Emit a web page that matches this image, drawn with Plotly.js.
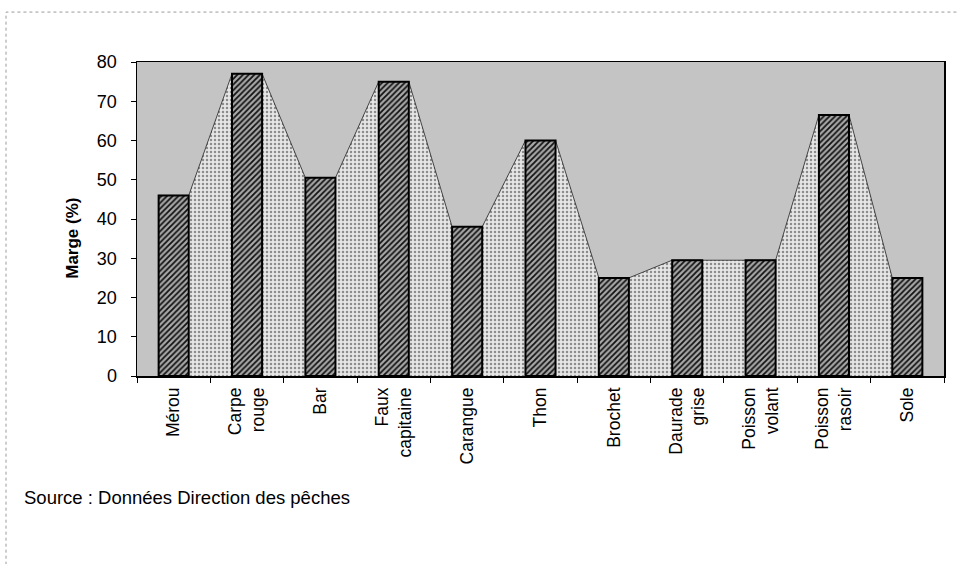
<!DOCTYPE html>
<html>
<head>
<meta charset="utf-8">
<script src="https://cdn.plot.ly/plotly-3.0.1.min.js"></script>
<style>html,body{margin:0;padding:0;background:#fff}#chart{width:957px;height:564px}</style>
</head>
<body>
<div id="chart"></div>
<script>
const categories = ["Mérou","Carpe rouge","Bar","Faux capitaine","Carangue","Thon","Brochet","Daurade grise","Poisson volant","Poisson rasoir","Sole"];
const tickLabels = ["Mérou","Carpe<br>rouge","Bar","Faux<br>capitaine","Carangue","Thon","Brochet","Daurade<br>grise","Poisson<br>volant","Poisson<br>rasoir","Sole"];
const marge = [46, 77, 50.5, 75, 38, 60, 25, 29.5, 29.5, 66.5, 25];
const yTicks = [0,10,20,30,40,50,60,70,80];

const barWidth = 0.41;
const idx = categories.map((c,i)=>i);

// area polygon through the bar top corners
const areaX = [], areaY = [];
idx.forEach(i => { areaX.push(i - barWidth/2, i + barWidth/2); areaY.push(marge[i], marge[i]); });

const font = "Liberation Sans, Arial, sans-serif";

const traces = [
  {
    type: "scatter", x: areaX, y: areaY, mode: "lines",
    fill: "tozeroy", fillcolor: "#dcdcdc",
    fillpattern: {shape: ".", fgcolor: "#8c8c8c", bgcolor: "#e6e6e6", size: 4, solidity: 0.3},
    line: {color: "#222", width: 0.8}, hoverinfo: "skip", showlegend: false
  },
  {
    type: "bar", x: idx, y: marge, width: barWidth, xaxis: "x2",
    marker: {color: "#7a7a7a", line: {color: "#000", width: 2},
             pattern: {shape: "/", fgcolor: "#111", bgcolor: "#a8a8a8", size: 4, solidity: 0.45}},
    showlegend: false
  }
];

const layout = {
  width: 957, height: 564,
  margin: {l: 137, r: 13, t: 62, b: 188},
  paper_bgcolor: "#ffffff",
  plot_bgcolor: "#c4c4c4",
  font: {family: font, size: 17, color: "#000"},
  bargap: 0,
  xaxis: {
    type: "linear", range: [-0.5, 10.5],
    tickvals: idx.concat([idx.length]).map(i => i - 0.5),
    showticklabels: false, ticks: "outside", ticklen: 5, tickcolor: "#000",
    showgrid: false, zeroline: false,
    showline: true, linecolor: "#000", linewidth: 1.5, mirror: true
  },
  xaxis2: {
    type: "linear", overlaying: "x", range: [-0.5, 10.5], anchor: "y", side: "bottom",
    tickvals: idx, ticktext: tickLabels, tickangle: -90,
    ticks: "", showgrid: false, zeroline: false, showline: false,
    tickfont: {family: font, size: 17.5}, ticklabelstandoff: 7
  },
  yaxis: {
    range: [0, 80], tickvals: yTicks, ticks: "outside", ticklen: 5, tickcolor: "#000",
    showgrid: false, zeroline: false,
    showline: true, linecolor: "#000", linewidth: 1.5, mirror: true,
    tickfont: {family: font, size: 18}, ticklabelstandoff: 10
  },
  shapes: [
    {type: "rect", xref: "paper", yref: "paper", x0: -0.1623, x1: 1.03, y0: -0.65, y1: 1.159,
     line: {color: "#9a9a9a", width: 1, dash: "dot"}, layer: "below"}
  ],
  annotations: [
    {xref: "paper", yref: "paper", x: -0.1425, y: -0.388, xanchor: "left", yanchor: "middle",
     text: "Source : Données Direction des pêches", showarrow: false,
     font: {family: font, size: 18.5, color: "#000"}},
    {xref: "paper", yref: "paper", x: -0.0794, y: 0.44, xanchor: "center", yanchor: "middle",
     textangle: -90, text: "<b>Marge (%)</b>", showarrow: false,
     font: {family: font, size: 17, color: "#000"}}
  ]
};

Plotly.newPlot("chart", traces, layout, {staticPlot: true});
</script>
</body>
</html>
